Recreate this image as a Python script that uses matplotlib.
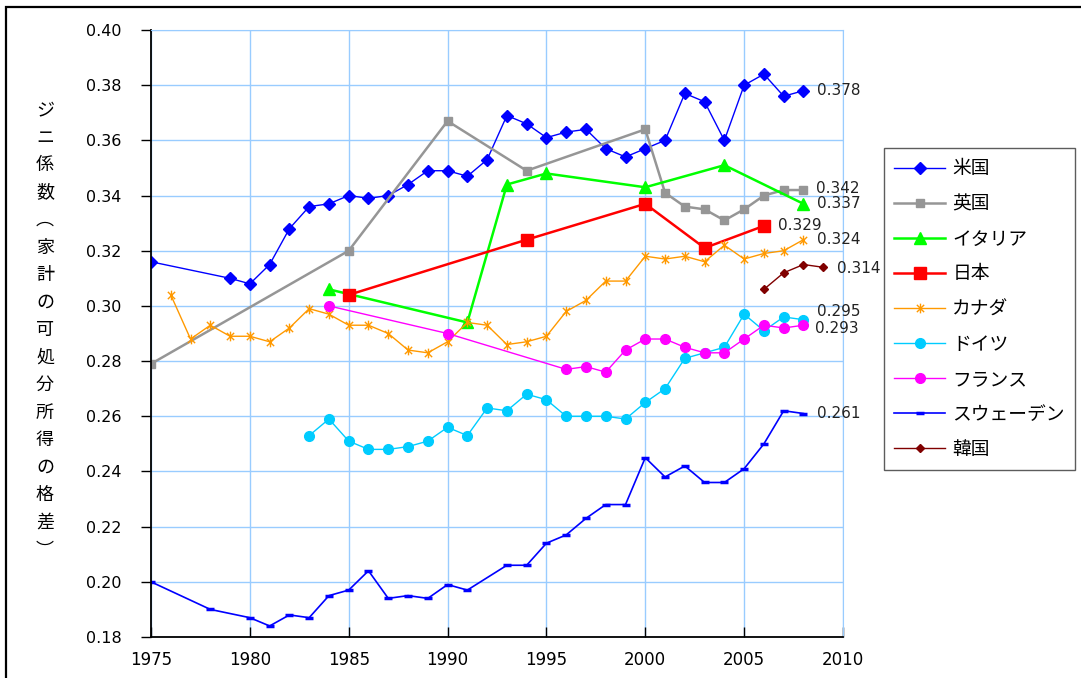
import matplotlib
matplotlib.use("Agg")
import matplotlib.pyplot as plt
from matplotlib.patches import Rectangle
from matplotlib.path import Path

plt.rcParams['font.family'] = ['DejaVu Sans', 'Noto Sans CJK JP']

JP = ['Noto Sans CJK JP', 'DejaVu Sans']

# --- data ---
us_years = [1975, 1979, 1980, 1981, 1982, 1983, 1984, 1985, 1986, 1987, 1988, 1989,
            1990, 1991, 1992, 1993, 1994, 1995, 1996, 1997, 1998, 1999, 2000, 2001,
            2002, 2003, 2004, 2005, 2006, 2007, 2008]
us_gini = [0.316, 0.310, 0.308, 0.315, 0.328, 0.336, 0.337, 0.340, 0.339, 0.340, 0.344, 0.349,
           0.349, 0.347, 0.353, 0.369, 0.366, 0.361, 0.363, 0.364, 0.357, 0.354, 0.357, 0.360,
           0.377, 0.374, 0.360, 0.380, 0.384, 0.376, 0.378]

uk_years = [1975, 1985, 1990, 1994, 2000, 2001, 2002, 2003, 2004, 2005, 2006, 2007, 2008]
uk_gini = [0.279, 0.320, 0.367, 0.349, 0.364, 0.341, 0.336, 0.335, 0.331, 0.335, 0.340, 0.342, 0.342]

it_years = [1984, 1991, 1993, 1995, 2000, 2004, 2008]
it_gini = [0.306, 0.294, 0.344, 0.348, 0.343, 0.351, 0.337]

jp_years = [1985, 1994, 2000, 2003, 2006]
jp_gini = [0.304, 0.324, 0.337, 0.321, 0.329]

ca_years = list(range(1976, 2009))
ca_gini = [0.304, 0.288, 0.293, 0.289, 0.289, 0.287, 0.292, 0.299, 0.297, 0.293, 0.293,
           0.290, 0.284, 0.283, 0.287, 0.294, 0.293, 0.286, 0.287, 0.289, 0.298, 0.302,
           0.309, 0.309, 0.318, 0.317, 0.318, 0.316, 0.322, 0.317, 0.319, 0.320, 0.324]

de_years = list(range(1983, 2009))
de_gini = [0.253, 0.259, 0.251, 0.248, 0.248, 0.249, 0.251, 0.256, 0.253, 0.263, 0.262,
           0.268, 0.266, 0.260, 0.260, 0.260, 0.259, 0.265, 0.270, 0.281, 0.283, 0.285,
           0.297, 0.291, 0.296, 0.295]

fr_years = [1984, 1990, 1996, 1997, 1998, 1999, 2000, 2001, 2002, 2003, 2004, 2005, 2006, 2007, 2008]
fr_gini = [0.300, 0.290, 0.277, 0.278, 0.276, 0.284, 0.288, 0.288, 0.285, 0.283, 0.283,
           0.288, 0.293, 0.292, 0.293]

se_years = [1975, 1978, 1980, 1981, 1982, 1983, 1984, 1985, 1986, 1987, 1988, 1989, 1990,
            1991, 1993, 1994, 1995, 1996, 1997, 1998, 1999, 2000, 2001, 2002, 2003, 2004,
            2005, 2006, 2007, 2008]
se_gini = [0.200, 0.190, 0.187, 0.184, 0.188, 0.187, 0.195, 0.197, 0.204, 0.194, 0.195, 0.194,
           0.199, 0.197, 0.206, 0.206, 0.214, 0.217, 0.223, 0.228, 0.228, 0.245, 0.238, 0.242,
           0.236, 0.236, 0.241, 0.250, 0.262, 0.261]

kr_years = [2006, 2007, 2008, 2009]
kr_gini = [0.306, 0.312, 0.315, 0.314]

# asterisk marker like the spreadsheet "star"
star = Path([(0, -1), (0, 1), (-0.75, -0.75), (0.75, 0.75), (-0.75, 0.75), (0.75, -0.75)],
            [Path.MOVETO, Path.LINETO, Path.MOVETO, Path.LINETO, Path.MOVETO, Path.LINETO])

fig = plt.figure(figsize=(10.81, 6.78), dpi=100)
ax = fig.add_axes([151 / 1081, 1 - 637 / 678, (843 - 151) / 1081, (637 - 30) / 678])

ax.plot(us_years, us_gini, color='#0000FF', lw=1.0, marker='D', ms=6, label='米国')
ax.plot(uk_years, uk_gini, color='#969696', lw=1.8, marker='s', ms=5.5, label='英国')
ax.plot(it_years, it_gini, color='#00FF00', lw=1.8, marker='^', ms=9, label='イタリア')
ax.plot(jp_years, jp_gini, color='#FF0000', lw=1.8, marker='s', ms=8, label='日本')
ax.plot(ca_years, ca_gini, color='#FF9900', lw=1.0, marker=star, ms=7, mew=1.0, label='カナダ')
ax.plot(de_years, de_gini, color='#00CCFF', lw=1.0, marker='o', ms=7, label='ドイツ')
ax.plot(fr_years, fr_gini, color='#FF00FF', lw=1.0, marker='o', ms=7, label='フランス')
ax.plot(se_years, se_gini, color='#0000FF', lw=1.2, marker='_', ms=6, mew=2.5, label='スウェーデン')
ax.plot(kr_years, kr_gini, color='#800000', lw=1.0, marker='D', ms=4.5, label='韓国')

# end-of-line value labels
end_labels = [
    (us_years, us_gini, '0.378', 10, 0),
    (uk_years, uk_gini, '0.342', 9, 1),
    (it_years, it_gini, '0.337', 10, 0),
    (jp_years, jp_gini, '0.329', 10, 0),
    (ca_years, ca_gini, '0.324', 10, 0),
    (kr_years, kr_gini, '0.314', 10, -1),
    (de_years, de_gini, '0.295', 10, 6),
    (fr_years, fr_gini, '0.293', 8, -2),
    (se_years, se_gini, '0.261', 10, 0),
]
for xs, ys, txt, dx, dy in end_labels:
    ax.annotate(txt, (xs[-1], ys[-1]), xytext=(dx, dy), textcoords='offset points',
                ha='left', va='center', fontsize=11, color='#222222', annotation_clip=False)

ax.set_xlim(1975, 2010)
ax.set_ylim(0.18, 0.40)
ax.set_xticks(range(1975, 2011, 5))
ax.set_yticks([0.18 + 0.02 * i for i in range(12)])
ax.set_yticklabels(['%.2f' % (0.18 + 0.02 * i) for i in range(12)])
ax.tick_params(axis='y', direction='out', length=7, width=1, pad=14, labelsize=11.5)
ax.tick_params(axis='x', direction='in', length=7, width=1, pad=10, labelsize=12)
ax.grid(True, color='#99CCFF', lw=1.0)
ax.set_axisbelow(True)
for side in ['top', 'right']:
    ax.spines[side].set_color('#99CCFF')
for side in ['left', 'bottom']:
    ax.spines[side].set_linewidth(1.3)

leg = ax.legend(loc='upper left', bbox_to_anchor=(884 / 1081, 1 - 148 / 678),
                bbox_transform=fig.transFigure, prop={'family': JP, 'size': 13.5},
                frameon=True, fancybox=False, edgecolor='#333333', handlelength=2.7,
                handletextpad=0.4, labelspacing=0.75, borderpad=0.55, borderaxespad=0)
leg.get_frame().set_linewidth(1.0)

fig.text(45 / 1081, 0.513, '\n'.join('ジニ係数︵家計の可処分所得の格差︶'),
         ha='center', va='center', ma='center', family=JP, fontsize=13, linespacing=1.68)

fig.patches.append(Rectangle((6 / 1081, -0.1), 2, 1.1 - 7 / 678, transform=fig.transFigure,
                             fill=False, edgecolor='black', lw=1.6, clip_on=False))

fig.savefig('out.png', dpi=100)
